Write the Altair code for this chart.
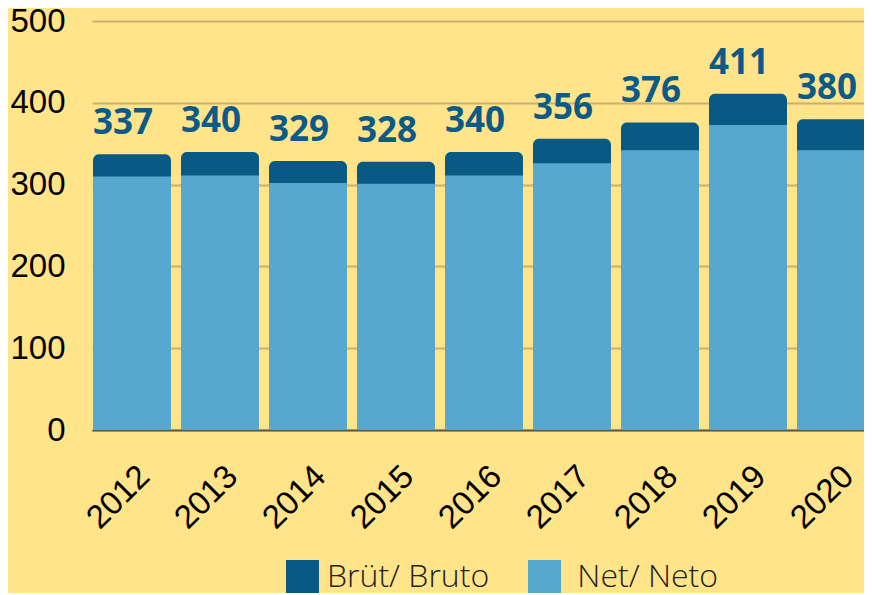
import altair as alt
import pandas as pd

years = [2012, 2013, 2014, 2015, 2016, 2017, 2018, 2019, 2020]
bruto = [337, 340, 329, 328, 340, 356, 376, 411, 380]
neto = [310, 311, 302, 301, 311, 326, 342, 373, 342]
series_names = ["Brüt/ Bruto", "Net/ Neto"]
colors = ["#085A85", "#56A8CE"]
y_ticks = [0, 100, 200, 300, 400, 500]

df = pd.DataFrame({"year": years, "bruto": bruto, "neto": neto})
df["bruto_name"] = series_names[0]
df["neto_name"] = series_names[1]

color_scale = alt.Scale(domain=series_names, range=colors)

x_enc = alt.X(
    "year:Q",
    title=None,
    scale=alt.Scale(domain=[2011.5455, 2020.3182], nice=False, zero=False, padding=0),
    axis=alt.Axis(
        values=years, format="d",
        labelAngle=-45, labelAlign="right", labelBaseline="middle",
        labelFontSize=33, labelFont="Liberation Sans", labelColor="#000000",
        labelPadding=41, labelOffset=12, labelFlush=False, labelOverlap=False,
        domain=True, domainColor="#5f5a48", domainWidth=2,
        ticks=False, grid=False,
    ),
)

y_axis = alt.Axis(
    values=y_ticks, labelFontSize=33, labelFont="Liberation Sans",
    labelColor="#000000", labelPadding=27, domain=False, ticks=False,
    grid=True, gridColor="#C9B06B", gridWidth=2,
)
y_scale = alt.Scale(domain=[0, 500])

legend = alt.Legend(
    title=None, orient="none", legendX=194, legendY=539,
    direction="horizontal", symbolType="square", symbolSize=1089,
    symbolStrokeWidth=0, labelFontSize=32, labelFont="Open Sans",
    labelFontWeight=300, labelColor="#222222", columnPadding=38,
    labelOffset=8, labelLimit=400,
    labelExpr="datum.label == 'Net/ Neto' ? '\u200b\u00a0' + datum.label : datum.label",
)

base = alt.Chart(df)

bars_b = base.mark_bar(size=78, cornerRadiusTopLeft=6, cornerRadiusTopRight=6, clip=True).encode(
    x=x_enc,
    y=alt.Y("bruto:Q", scale=y_scale, axis=y_axis, title=None, stack=None),
    color=alt.Color("bruto_name:N", scale=color_scale, legend=legend),
)

bars_n = base.mark_bar(size=78, clip=True).encode(
    x=x_enc,
    y=alt.Y("neto:Q", scale=y_scale, title=None, stack=None),
    color=alt.Color("neto_name:N", scale=color_scale, legend=legend),
)

labels = base.mark_text(
    align="left", baseline="alphabetic", dx=-39, dy=-20,
    font="Open Sans", fontWeight="bold", fontSize=35, color="#0B5A88",
).encode(
    x=x_enc,
    y=alt.Y("bruto:Q", scale=y_scale, title=None, stack=None),
    text="bruto:Q",
)

chart = alt.layer(bars_b, bars_n, labels).properties(
    width=772, height=409,
    background="#FFE48A",
    autosize=alt.AutoSizeParams(type="none"),
    padding={"left": 84, "top": 13, "right": 0, "bottom": 163},
).configure_view(stroke=None)

chart.save("out.html", embed_options={"renderer": "svg", "actions": False})
